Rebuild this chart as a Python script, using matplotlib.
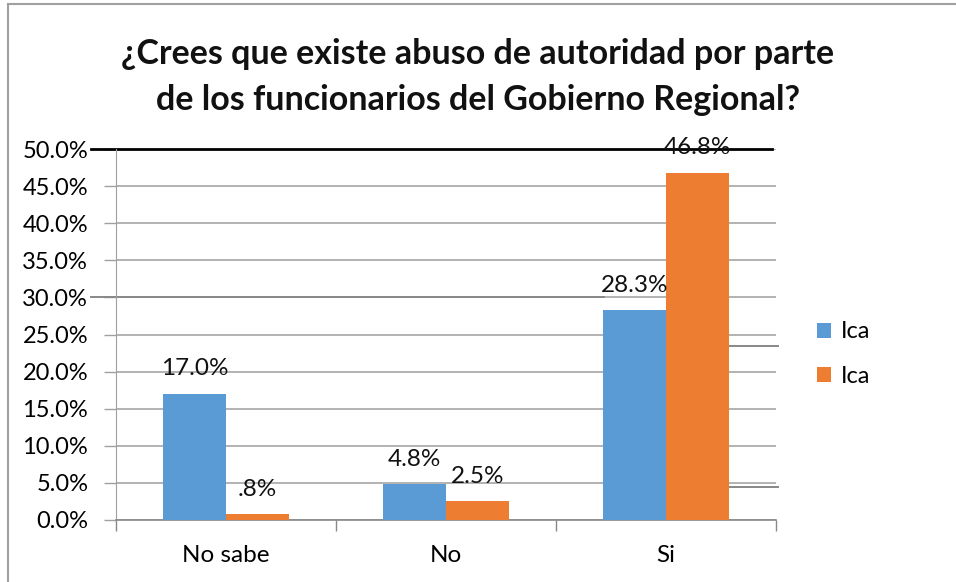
import matplotlib
matplotlib.use("Agg")
import matplotlib.pyplot as plt
import numpy as np

categories = ["No sabe", "No", "Si"]
ica_1 = [17.0, 4.8, 28.3]
ica_2 = [0.8, 2.5, 46.8]
labels_1 = ["17.0%", "4.8%", "28.3%"]
labels_2 = [".8%", "2.5%", "46.8%"]
series_names = ["Ica", "Ica"]
yticks = np.arange(0, 55, 5)

plt.rcParams['font.family'] = ['Lato', 'DejaVu Sans']

fig = plt.figure(figsize=(9.56, 5.82), dpi=100)
ax = fig.add_axes([116 / 956, 1 - 520 / 582, 660 / 956, 371 / 582])

x = np.arange(len(categories))
w = 0.285
blue = '#5b9bd5'
orange = '#ed7d31'
b1 = ax.bar(x - w / 2, ica_1, w, color=blue, label=series_names[0], zorder=3)
b2 = ax.bar(x + w / 2, ica_2, w, color=orange, label=series_names[1], zorder=3)

for bars, labs in ((b1, labels_1), (b2, labels_2)):
    for r, lab in zip(bars, labs):
        ax.annotate(lab, (r.get_x() + r.get_width() / 2, r.get_height()),
                    xytext=(0, 18), textcoords='offset points',
                    ha='center', va='center', fontsize=17.5, color='#111111', zorder=4)

ax.set_xlim(-0.5, 2.5)
ax.set_ylim(0, 50)
ax.set_yticks(yticks)
ax.set_yticklabels([f"{v:.1f}%" for v in yticks], fontsize=17)
ax.set_xticks(x)
ax.set_xticklabels(categories, fontsize=17.5)
ax.set_xticks([-0.5, 0.5, 1.5, 2.5], minor=True)
ax.tick_params(axis='x', which='major', length=0, pad=18)
ax.tick_params(axis='x', which='minor', length=8, color='#888888', width=1)
ax.tick_params(axis='y', length=9, color='#a0a0a0', width=1, pad=11)
ax.grid(axis='y', color='#a6a6a6', linewidth=1.2, zorder=0)
ax.set_axisbelow(True)
for s in ['top', 'right']:
    ax.spines[s].set_visible(False)
ax.spines['left'].set_color('#a0a0a0')
ax.spines['bottom'].set_color('#888888')
ax.spines['bottom'].set_linewidth(1.2)

# odd overlay lines from the source image
ax.plot([-0.615, 2.48], [50, 50], color='black', linewidth=2, clip_on=False, zorder=2)
ax.plot([-0.615, 1.72], [30, 30], color='#888888', linewidth=1.4, clip_on=False, zorder=2)
ax.plot([2.14, 2.51], [23.5, 23.5], color='#888888', linewidth=1.4, clip_on=False, zorder=2)
ax.plot([2.14, 2.51], [4.5, 4.5], color='#888888', linewidth=1.4, clip_on=False, zorder=2)

ax.legend(loc='center left', bbox_to_anchor=(1.03, 0.447), frameon=False,
          fontsize=17, handlelength=0.6, handleheight=0.6, labelspacing=1.0,
          handletextpad=0.4)

fig.text(0.5, 1 - 54 / 582, "¿Crees que existe abuso de autoridad por parte",
         ha='center', va='center', fontsize=24.5, fontweight='bold', color='#111111')
fig.text(0.5, 1 - 100 / 582, "de los funcionarios del Gobierno Regional?",
         ha='center', va='center', fontsize=24.5, fontweight='bold', color='#111111')

# chart frame
fig.add_artist(plt.Line2D([8 / 956, 8 / 956], [0, 1 - 4 / 582], transform=fig.transFigure,
                          color='#a0a0a0', linewidth=1.5))
fig.add_artist(plt.Line2D([8 / 956, 1], [1 - 4 / 582, 1 - 4 / 582], transform=fig.transFigure,
                          color='#a0a0a0', linewidth=1.5))

fig.savefig("out.png", dpi=100)
